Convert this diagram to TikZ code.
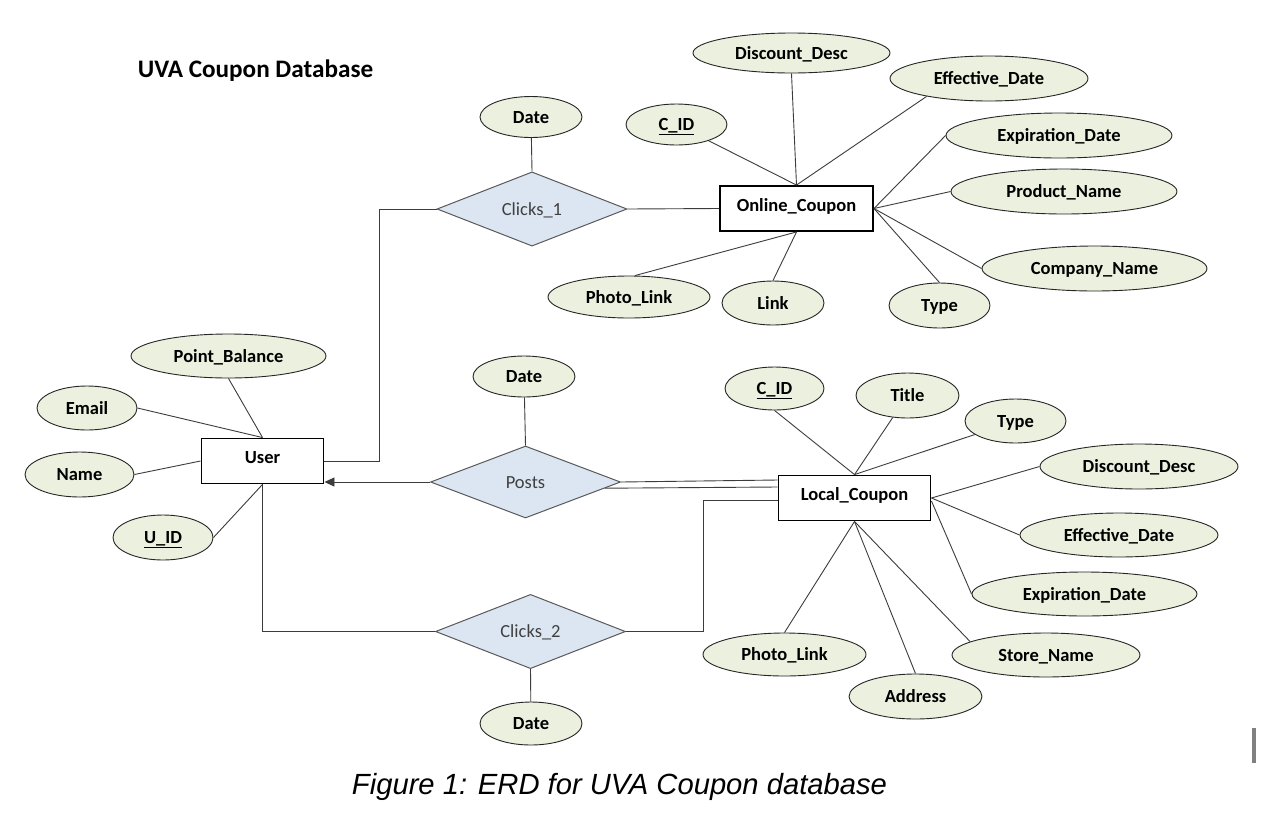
\documentclass[tikz,border=0pt]{standalone}
\usepackage{fontspec}
\setmainfont{Carlito}
\newfontfamily\capfamily{Liberation Sans}
\usetikzlibrary{shapes.geometric,arrows.meta,calc}
\definecolor{attrfill}{RGB}{235,241,222}
\definecolor{relfill}{RGB}{220,230,242}
\definecolor{linecol}{RGB}{60,60,60}
\newcommand\attrfont{\fontsize{18.5}{21}\selectfont\bfseries}
\newcommand\relfont{\fontsize{18.5}{21}\selectfont}
\newcommand\titlefont{\fontsize{25.2}{28}\selectfont\bfseries}
\newcommand\captionfont{\capfamily\fontsize{29.2}{32}\selectfont\itshape}
\begin{document}
\begin{tikzpicture}[x=1pt,y=-1pt,
  attr/.style 2 args={ellipse, draw=black!85, fill=attrfill, line width=0.9pt, inner sep=0pt,
    minimum width=#1pt, minimum height=#2pt, font=\attrfont, text height=13pt, text depth=1pt},
  ent/.style 2 args={rectangle, draw=black, line width=1.9pt, fill=white, inner sep=0pt,
    minimum width=#1pt, minimum height=#2pt, font=\attrfont, text height=12pt, text depth=7pt},
  rel/.style={diamond, draw=black!65, fill=relfill, line width=1pt, inner sep=0pt,
    minimum width=190pt, minimum height=72pt, font=\relfont, text=black!75,
    text height=13pt, text depth=1pt},
  conn/.style={draw=linecol, line width=0.9pt}]
\fill[white] (0,0) rectangle (1278,812);
\useasboundingbox (0,0) rectangle (1278,812);

% title and caption
\node[font=\titlefont] (title) at (255.5,71) {UVA Coupon Database};
\node[font=\captionfont] (cap) at (619.5,787) {Figure 1: ERD for UVA Coupon database};
\node[fill=black!50, minimum width=4pt, minimum height=35pt, inner sep=0pt] (cursor) at (1254,745.5) {};

% entities
\node[ent={153}{45}] (oc) at (796.5,208.5) {Online\_Coupon};
\node[ent={122}{45}] (usr) at (262.5,461) {User};
\node[ent={152}{45}] (lc) at (854.5,498) {Local\_Coupon};

% relationships
\node[rel] (c1) at (532,209) {Clicks\_1};
\node[rel] (po) at (525.5,482) {Posts};
\node[rel] (c2) at (530.5,631.5) {Clicks\_2};

% relationship attributes
\node[attr={102}{41}] (d1) at (531,117) {Date};
\node[attr={102}{41}] (d2) at (524,376.5) {Date};
\node[attr={102}{43}] (d3) at (531,723.5) {Date};

% online coupon attributes
\node[attr={197}{40}] (ocdesc) at (791.5,53) {Discount\_Desc};
\node[attr={198}{45}] (oceff) at (989,78.5) {Effective\_Date};
\node[attr={101}{41}] (occid) at (676.5,124.5) {\underline{C\_ID}};
\node[attr={226}{45}] (ocexp) at (1059,135.5) {Expiration\_Date};
\node[attr={226}{45}] (ocprod) at (1064,191.5) {Product\_Name};
\node[attr={225}{45}] (occomp) at (1094.5,268.5) {Company\_Name};
\node[attr={162}{42}] (ocphoto) at (629,297) {Photo\_Link};
\node[attr={102}{44}] (oclink) at (773,303) {Link};
\node[attr={101}{45}] (octype) at (939.5,305.5) {Type};

% user attributes
\node[attr={195}{44}] (pb) at (228.5,356) {Point\_Balance};
\node[attr={100}{44}] (em) at (87,408) {Email};
\node[attr={109}{45}] (nm) at (79.5,474.5) {Name};
\node[attr={100}{45}] (uid) at (163,537.5) {\underline{U\_ID}};

% local coupon attributes
\node[attr={99}{43}] (lccid) at (774.5,388.5) {\underline{C\_ID}};
\node[attr={103}{45}] (lctitle) at (907.5,395.5) {Title};
\node[attr={101}{44}] (lctype) at (1015.5,421) {Type};
\node[attr={198}{45}] (lcdesc) at (1139,466.5) {Discount\_Desc};
\node[attr={198}{44}] (lceff) at (1119,535) {Effective\_Date};
\node[attr={225}{44}] (lcexp) at (1084.5,594) {Expiration\_Date};
\node[attr={188}{44}] (lcstore) at (1046,655) {Store\_Name};
\node[attr={163}{43}] (lcphoto) at (784.5,654.5) {Photo\_Link};
\node[attr={133}{45}] (lcaddr) at (915.5,696.5) {Address};

% online coupon connectors
\draw[conn] (oc.north) -- (occid);
\draw[conn] (oc.north) -- (ocdesc.south);
\draw[conn] (oc.north) -- (oceff.196);
\draw[conn] (oc.east) -- (ocexp.west);
\draw[conn] (oc.east) -- (ocprod.west);
\draw[conn] (oc.east) -- (occomp.west);
\draw[conn] (oc.east) -- (octype.north);
\draw[conn] (oc.south) -- ($(ocphoto.north)+(6,0)$);
\draw[conn] (oc.south) -- (oclink.north);

% user connectors
\draw[conn] (usr.north) -- (pb.south);
\draw[conn] (usr.north) -- (em.east);
\draw[conn] (usr.west) -- (nm.east);
\draw[conn] (usr.south) -- (uid.east);

% local coupon connectors
\draw[conn] (lc.north) -- (lccid.south);
\draw[conn] (lc.north) -- (lctitle);
\draw[conn] (lc.north) -- (lctype);
\draw[conn] (lc.east) -- (lcdesc.west);
\draw[conn] (lc.east) -- (lceff.west);
\draw[conn] ($(lc.east)+(0,3)$) -- (lcexp.west);
\draw[conn] (lc.south) -- (lcphoto.north);
\draw[conn] (lc.south) -- (lcaddr.north);
\draw[conn] (lc.south) -- (lcstore.170);

% relationship connectors
\draw[conn] (c1.north) -- (d1);
\draw[conn] (po.north) -- (d2);
\draw[conn] (c2.south) -- (d3);
\draw[conn] (c1.east) -- (oc.west);
\draw[conn] (c1.west) -- ++(-57,0) |- (usr.east);
\draw[conn, -{Triangle[length=10pt,width=9pt]}] (po.west) -- (po.west -| usr.east);
\draw[conn] (po.east) -- ($(lc.west)+(0,-18)$);
\draw[conn] ($(po.east)!0.17!(po.south)$) -- ($(lc.west)+(0,-11)$);
\draw[conn] (c2.west) -| (usr.south);
\draw[conn] (c2.east) -- ++(77,0) |- ($(lc.west)+(0,2)$);
\end{tikzpicture}
\end{document}
